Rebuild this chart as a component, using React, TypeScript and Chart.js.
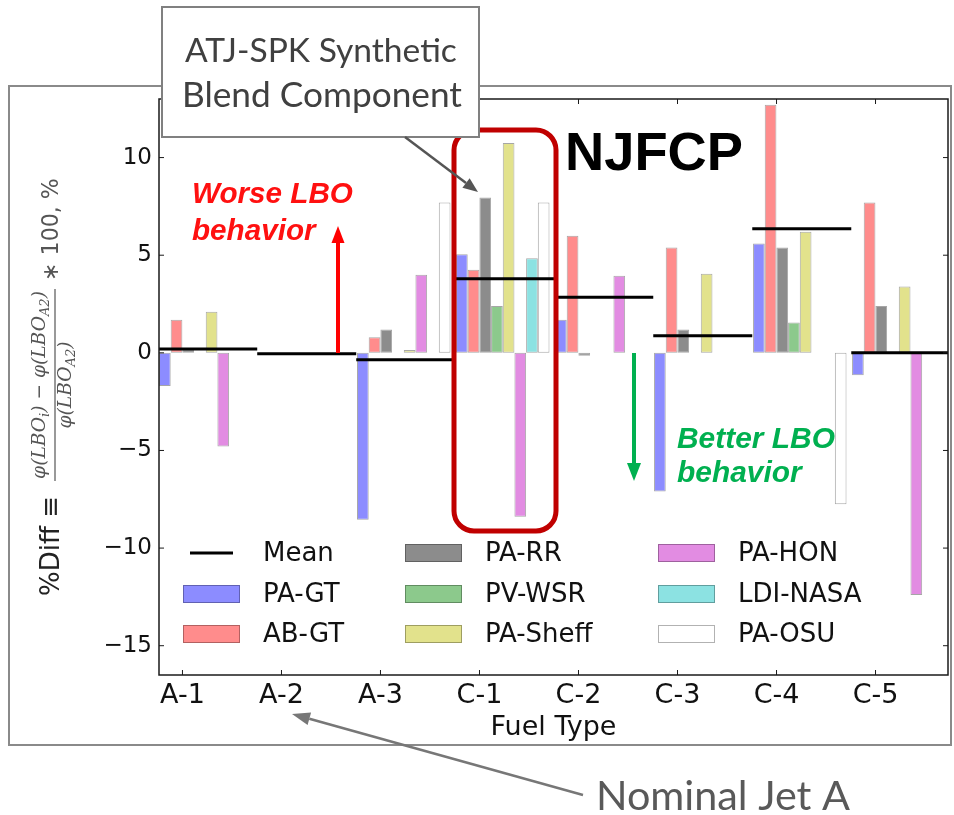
import React, { useEffect, useRef } from 'react';
import { Chart, registerables } from 'chart.js';

Chart.register(...registerables);

// ---------------- data ----------------
const categories = ['A-1', 'A-2', 'A-3', 'C-1', 'C-2', 'C-3', 'C-4', 'C-5'];
const meanValues = [0.2, -0.05, -0.35, 3.8, 2.85, 0.87, 6.35, 0];
const paGT = [-1.7, 0, -8.55, 5.05, 1.7, -7.1, 5.6, -1.15];
const abGT = [1.7, 0, 0.8, 4.25, 6.0, 5.4, 12.7, 7.7];
const paRR = [0.15, 0, 1.2, 7.95, -0.15, 1.2, 5.4, 2.4];
const pvWSR = [0, 0, 0, 2.4, 0, 0, 1.55, 0];
const paSheff = [2.1, 0, 0.15, 10.75, 0, 4.05, 6.2, 3.4];
const paHON = [-4.8, 0, 4.0, -8.4, 3.95, 0, 0, -12.4];
const ldiNASA = [0, 0, 0, 4.85, 0, 0, 0, 0];
const paOSU = [0, 0, 7.7, 7.7, 0, 0, -7.75, 0];

const seriesLabels = ['PA-GT', 'AB-GT', 'PA-RR', 'PV-WSR', 'PA-Sheff', 'PA-HON', 'LDI-NASA', 'PA-OSU'];
const seriesValues = [paGT, abGT, paRR, pvWSR, paSheff, paHON, ldiNASA, paOSU];
const seriesColors = ['#8c8cff', '#ff8c8c', '#8c8c8c', '#8cc98c', '#e2e28c', '#e28ce2', '#8ce2e2', '#ffffff'];
const yTickValues = [-15, -10, -5, 0, 5, 10];

const GROUP_SHIFT = 0.235;

// ---------------- helpers ----------------
function fitFont(ctx: CanvasRenderingContext2D, text: string, spec: string, family: string, width: number) {
  ctx.font = `${spec} 100px ${family}`;
  const w = ctx.measureText(text).width;
  const size = (100 * width) / w;
  ctx.font = `${spec} ${size}px ${family}`;
  return size;
}

function arrow(ctx: CanvasRenderingContext2D, x1: number, y1: number, x2: number, y2: number,
  color: string, width: number, headLen: number, headW: number) {
  const ang = Math.atan2(y2 - y1, x2 - x1);
  const bx = x2 - headLen * Math.cos(ang);
  const by = y2 - headLen * Math.sin(ang);
  ctx.save();
  ctx.strokeStyle = color;
  ctx.fillStyle = color;
  ctx.lineWidth = width;
  ctx.beginPath();
  ctx.moveTo(x1, y1);
  ctx.lineTo(bx, by);
  ctx.stroke();
  ctx.beginPath();
  ctx.moveTo(x2, y2);
  ctx.lineTo(bx + (headW / 2) * Math.sin(ang), by - (headW / 2) * Math.cos(ang));
  ctx.lineTo(bx - (headW / 2) * Math.sin(ang), by + (headW / 2) * Math.cos(ang));
  ctx.closePath();
  ctx.fill();
  ctx.restore();
}

type Run = { t: string; sub?: boolean; upright?: boolean };

function runsWidth(ctx: CanvasRenderingContext2D, runs: Run[], size: number) {
  let w = 0;
  for (const r of runs) {
    const s = r.sub ? size * 0.7 : size;
    ctx.font = `${r.upright ? '' : 'italic '}${s}px "DejaVu Serif"`;
    w += ctx.measureText(r.t).width;
  }
  return w;
}

function drawRuns(ctx: CanvasRenderingContext2D, runs: Run[], size: number, xStart: number, y: number) {
  let x = xStart;
  for (const r of runs) {
    const s = r.sub ? size * 0.7 : size;
    ctx.font = `${r.upright ? '' : 'italic '}${s}px "DejaVu Serif"`;
    ctx.fillText(r.t, x, r.sub ? y + size * 0.3 : y);
    x += ctx.measureText(r.t).width;
  }
}

const overlayPlugin = {
  id: 'overlay',
  afterDraw(chart: any) {
    const ctx: CanvasRenderingContext2D = chart.ctx;
    const { left, right, top, bottom } = chart.chartArea;
    const xs = chart.scales.x;
    const ys = chart.scales.y;
    ctx.save();

    // outer frame
    ctx.strokeStyle = '#8a8a8a';
    ctx.lineWidth = 2;
    ctx.strokeRect(9, 86, 942, 659);

    // plot spines
    ctx.strokeStyle = '#1a1a1a';
    ctx.lineWidth = 1.5;
    ctx.strokeRect(left, top, right - left, bottom - top);

    // inward ticks
    ctx.lineWidth = 1;
    ctx.beginPath();
    xs.ticks.forEach((t: any) => {
      const px = xs.getPixelForValue(t.value);
      ctx.moveTo(px, bottom); ctx.lineTo(px, bottom - 5);
      ctx.moveTo(px, top); ctx.lineTo(px, top + 5);
    });
    ys.ticks.forEach((t: any) => {
      const py = ys.getPixelForValue(t.value);
      ctx.moveTo(left, py); ctx.lineTo(left + 5, py);
      ctx.moveTo(right, py); ctx.lineTo(right - 5, py);
    });
    ctx.stroke();

    // legend (3 columns, column-major)
    const ds = chart.data.datasets;
    const colX = [left + 24, left + 246, left + 499];
    const rowY = [bottom - 122, bottom - 81, bottom - 41];
    ctx.font = '26px "DejaVu Sans"';
    ctx.textBaseline = 'middle';
    ctx.textAlign = 'left';
    ds.forEach((d: any, k: number) => {
      const c = Math.floor(k / 3);
      const r = k % 3;
      const x = colX[c];
      const y = rowY[r];
      if (d.type === 'line') {
        ctx.strokeStyle = '#000';
        ctx.lineWidth = 3;
        ctx.beginPath();
        ctx.moveTo(x + 7, y);
        ctx.lineTo(x + 50, y);
        ctx.stroke();
      } else {
        ctx.fillStyle = d.backgroundColor;
        ctx.fillRect(x, y - 9, 57, 18);
        ctx.strokeStyle = 'rgba(0,0,0,0.3)';
        ctx.lineWidth = 1;
        ctx.strokeRect(x + 0.5, y - 8.5, 56, 17);
      }
      ctx.fillStyle = '#111';
      ctx.fillText(d.label, x + 80, y + 1);
    });

    // y-axis title (rotated formula)
    ctx.save();
    ctx.translate(51, (top + bottom) / 2);
    ctx.rotate(-Math.PI / 2);
    ctx.textBaseline = 'middle';
    ctx.fillStyle = '#222';
    fitFont(ctx, '%Diff \u2261', '', '"DejaVu Sans"', 100);
    ctx.fillText('%Diff \u2261', -209, 1);
    ctx.fillStyle = '#555';
    const numRuns: Run[] = [
      { t: '\u03c6(LBO' }, { t: 'i', sub: true }, { t: ') \u2212 \u03c6(LBO', }, { t: 'A2', sub: true }, { t: ')' },
    ];
    const denRuns: Run[] = [{ t: '\u03c6(LBO' }, { t: 'A2', sub: true }, { t: ')' }];
    const w100 = runsWidth(ctx, numRuns, 100);
    const fs = (100 * 188) / w100;
    const wn = runsWidth(ctx, numRuns, fs);
    drawRuns(ctx, numRuns, fs, 2 - wn / 2, -11);
    const wd = runsWidth(ctx, denRuns, fs);
    drawRuns(ctx, denRuns, fs, 2 - wd / 2, 15);
    ctx.strokeStyle = '#555';
    ctx.lineWidth = 1.2;
    ctx.beginPath();
    ctx.moveTo(-94, 4);
    ctx.lineTo(98, 4);
    ctx.stroke();
    fitFont(ctx, '\u2217 100, %', '', '"DejaVu Sans"', 103);
    ctx.fillText('\u2217 100, %', 106, 1);
    ctx.restore();

    // red rounded box around C-1
    ctx.strokeStyle = '#c00000';
    ctx.lineWidth = 5;
    ctx.beginPath();
    (ctx as any).roundRect(454, 130, 102, 401, 20);
    ctx.stroke();

    // NJFCP
    ctx.fillStyle = '#000';
    ctx.textBaseline = 'alphabetic';
    fitFont(ctx, 'NJFCP', 'bold', '"Liberation Sans"', 178);
    ctx.fillText('NJFCP', 565, 170);

    // worse / better annotations
    ctx.fillStyle = '#ff1010';
    fitFont(ctx, 'Worse LBO', 'bold italic', '"Liberation Sans"', 161);
    ctx.fillText('Worse LBO', 192, 203);
    ctx.fillText('behavior', 192, 240);
    arrow(ctx, 338, 353, 338, 226, '#ff0000', 4, 17, 13);

    ctx.fillStyle = '#00b050';
    fitFont(ctx, 'Better LBO', 'bold italic', '"Liberation Sans"', 158);
    ctx.fillText('Better LBO', 677, 448);
    ctx.fillText('behavior', 677, 482);
    arrow(ctx, 634, 353, 634, 481, '#00b050', 4, 18, 14);

    // callout box
    ctx.fillStyle = '#ffffff';
    ctx.fillRect(162, 7, 317, 130);
    ctx.strokeStyle = '#808080';
    ctx.lineWidth = 2;
    ctx.strokeRect(162, 7, 317, 130);
    ctx.fillStyle = '#404040';
    ctx.textAlign = 'left';
    fitFont(ctx, 'ATJ-SPK Synthetic', '', 'Lato', 272);
    ctx.fillText('ATJ-SPK Synthetic', 185, 62);
    fitFont(ctx, 'Blend Component', '', 'Lato', 280);
    ctx.fillText('Blend Component', 182, 107);
    arrow(ctx, 405, 137, 478, 192, '#555555', 2.5, 15, 12);

    // nominal jet A
    ctx.fillStyle = '#595959';
    fitFont(ctx, 'Nominal Jet A', '', 'Lato', 254);
    ctx.fillText('Nominal Jet A', 596, 810);
    arrow(ctx, 583, 795, 292, 714, '#777777', 2.5, 18, 13);

    ctx.restore();
  },
};

export default function App() {
  const canvasRef = useRef<HTMLCanvasElement | null>(null);

  useEffect(() => {
    if (!canvasRef.current) return;
    const meanPoints = meanValues.flatMap((m, i) => [
      { x: i - 0.245, y: m },
      { x: i + 0.755, y: m },
      { x: i + 0.76, y: null },
    ]);
    const datasets: any[] = [
      {
        type: 'line',
        label: 'Mean',
        data: meanPoints,
        borderColor: '#000',
        backgroundColor: '#000',
        borderWidth: 3,
        pointRadius: 0,
        spanGaps: false,
        order: 0,
      },
      ...seriesLabels.map((label, k) => ({
        type: 'bar',
        label,
        data: seriesValues[k].map((v, i) => ({ x: i + GROUP_SHIFT, y: v })),
        backgroundColor: seriesColors[k],
        borderColor: 'rgba(0,0,0,0.35)',
        borderWidth: 1,
        borderSkipped: false,
        categoryPercentage: 0.944,
        barPercentage: 1,
        order: 1,
      })),
    ];

    const chart = new Chart(canvasRef.current, {
      type: 'bar',
      data: { datasets },
      plugins: [overlayPlugin],
      options: {
        animation: false,
        responsive: true,
        maintainAspectRatio: false,
        events: [],
        layout: { padding: { left: 0, top: 99, right: 6, bottom: 0 } },
        plugins: { legend: { display: false }, tooltip: { enabled: false } },
        scales: {
          x: {
            type: 'linear',
            min: -0.237,
            max: 7.732,
            offset: false,
            afterBuildTicks: (s: any) => {
              s.ticks = categories.map((_, i) => ({ value: i }));
            },
            afterFit: (s: any) => {
              s.height = 140;
            },
            grid: { display: false, drawTicks: false },
            border: { display: false },
            ticks: {
              autoSkip: false,
              maxRotation: 0,
              padding: 5,
              color: '#111',
              font: { family: 'DejaVu Sans', size: 27 },
              callback: (v: any) => categories[v] ?? '',
            },
            title: {
              display: true,
              text: 'Fuel Type',
              color: '#111',
              font: { family: 'DejaVu Sans', size: 27 },
              padding: { top: 0, bottom: 71 },
            },
          },
          y: {
            type: 'linear',
            min: -16.5,
            max: 13,
            afterBuildTicks: (s: any) => {
              s.ticks = yTickValues.map((v) => ({ value: v }));
            },
            afterFit: (s: any) => {
              s.width = 159;
            },
            grid: { display: false, drawTicks: false },
            border: { display: false },
            ticks: {
              padding: 7,
              color: '#111',
              font: { family: 'DejaVu Sans', size: 23 },
              callback: (v: any) => (v < 0 ? '\u2212' + Math.abs(v) : String(v)),
            },
          },
        },
      } as any,
    });
    return () => chart.destroy();
  }, []);

  return (
    <div style={{ position: 'fixed', left: 0, top: 0, width: 954, height: 815, background: '#fff' }}>
      <canvas ref={canvasRef} />
    </div>
  );
}
